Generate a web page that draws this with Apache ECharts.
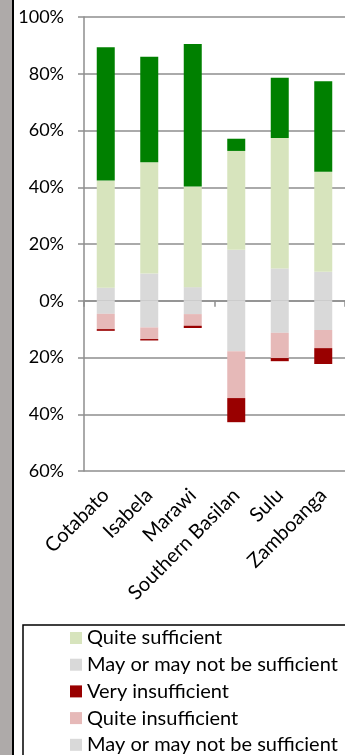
<!DOCTYPE html>
<html>
<head>
<meta charset="utf-8">
<script src="https://cdn.jsdelivr.net/npm/echarts@6/dist/echarts.min.js"></script>
<style>
  html, body { margin: 0; padding: 0; background: #fff; }
  #chart { width: 345px; height: 755px; }
</style>
</head>
<body>
<div id="chart"></div>
<script>
// regions
var categories = ["Cotabato", "Isabela", "Marawi", "Southern Basilan", "Sulu", "Zamboanga"];

// positive side (%)
var mayPos = [4.6, 9.6, 4.8, 18.0, 11.4, 10.2];
var quiteSufficient = [37.8, 39.2, 35.5, 34.8, 46.0, 35.3];
var verySufficient = [46.9, 37.2, 50.2, 4.3, 21.2, 31.9];

// negative side (%), drawn below zero
var mayNeg = [-4.6, -9.4, -4.7, -17.8, -11.3, -10.3];
var quiteInsufficient = [-5.4, -4.1, -4.1, -16.5, -8.9, -6.4];
var veryInsufficient = [-0.6, -0.5, -0.8, -8.5, -1.1, -5.6];

var font = "Lato, 'Open Sans', sans-serif";
var gridColor = "#8e8e8e";

var myChart = echarts.init(document.getElementById("chart"));

function bar(name, data, color) {
  return {
    name: name,
    type: "bar",
    stack: "total",
    barWidth: 18,
    xAxisIndex: 0,
    data: data,
    itemStyle: { color: color },
    emphasis: { disabled: true }
  };
}

myChart.setOption({
  animation: false,
  backgroundColor: "#fff",
  grid: {
    left: 84,
    top: 17,
    bottom: 284,
    right: -13
  },
  graphic: [
    // grey frame strip on the left
    { type: "rect", left: 0, top: 0, shape: { width: 12, height: 755 }, style: { fill: "#aeaaa9" }, z: 100 },
    { type: "rect", left: 12, top: 0, shape: { width: 2, height: 755 }, style: { fill: "#000" }, z: 100 },
    // legend box
    { type: "rect", shape: { x: 23, y: 625, width: 360, height: 200 }, style: { fill: "none", stroke: "#000", lineWidth: 1.5 }, z: 50 }
  ],
  legend: {
    orient: "vertical",
    left: 70,
    top: 628,
    padding: 0,
    itemWidth: 12,
    itemHeight: 12,
    itemGap: 6.7,
    icon: "rect",
    selectedMode: false,
    textStyle: { fontFamily: font, fontSize: 20, color: "#000", lineHeight: 20 },
    data: [
      "Quite sufficient",
      "May or may not be sufficient",
      "Very insufficient",
      "Quite insufficient",
      "May or may not be sufficient "
    ]
  },
  xAxis: [
    {
      type: "category",
      data: categories,
      axisLine: { onZero: true, lineStyle: { color: gridColor, width: 1.5 } },
      axisTick: { show: true, length: 6, lineStyle: { color: gridColor, width: 1.5 } },
      axisLabel: { show: false },
      splitLine: { show: false }
    },
    {
      type: "category",
      data: categories,
      position: "bottom",
      axisLine: { show: false, onZero: false },
      axisTick: { show: false },
      axisLabel: {
        rotate: 45,
        margin: 21,
        interval: 0,
        fontFamily: font,
        fontSize: 20,
        color: "#000"
      }
    }
  ],
  yAxis: {
    type: "value",
    min: -60,
    max: 100,
    interval: 20,
    axisLine: { show: true, lineStyle: { color: gridColor, width: 1.5 } },
    axisTick: { show: true, length: 6, lineStyle: { color: gridColor, width: 1.5 } },
    splitLine: { show: true, lineStyle: { color: gridColor, width: 1.5 } },
    axisLabel: {
      margin: 20,
      fontFamily: font,
      fontSize: 18,
      color: "#000",
      formatter: function (v) {
        return Math.abs(v) + "%";
      }
    }
  },
  series: [
    bar("May or may not be sufficient", mayPos, "#d9d9d9"),
    bar("Quite sufficient", quiteSufficient, "#d7e4bd"),
    bar("Very sufficient", verySufficient, "#008000"),
    bar("May or may not be sufficient ", mayNeg, "#d9d9d9"),
    bar("Quite insufficient", quiteInsufficient, "#e6b9b8"),
    bar("Very insufficient", veryInsufficient, "#990000")
  ]
});

window.onresize = myChart.resize;
</script>
</body>
</html>
